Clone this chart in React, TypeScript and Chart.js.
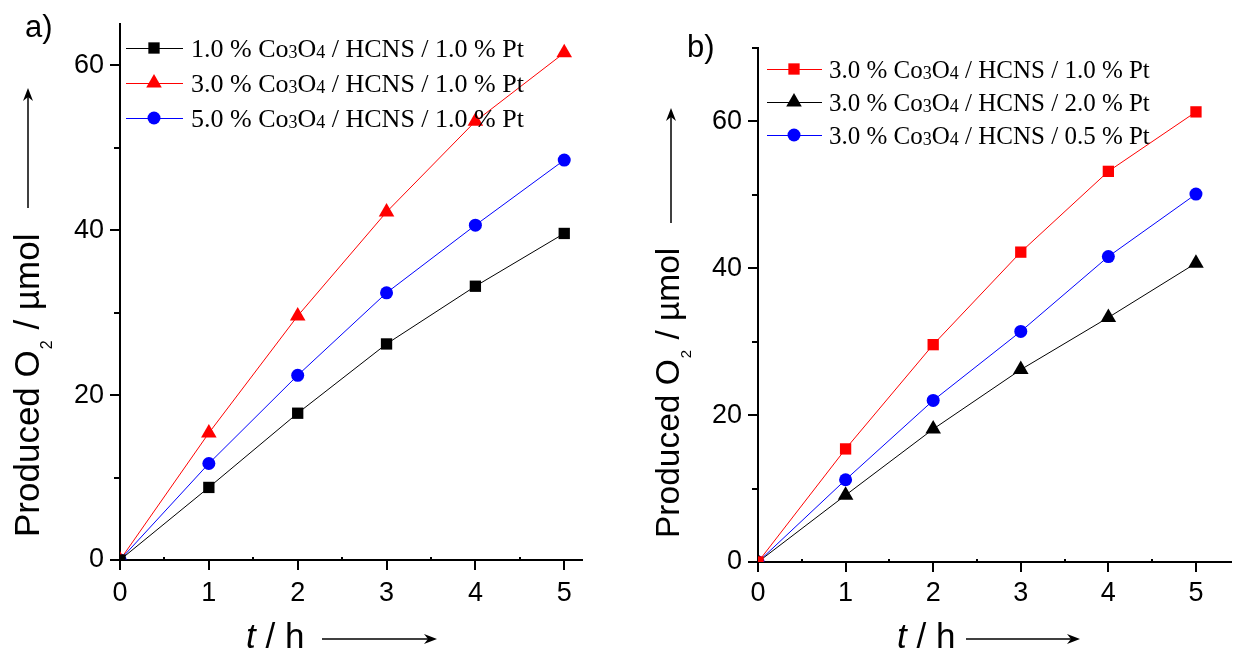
import React, { useEffect, useRef } from "react";
import { Chart, registerables } from "chart.js";

Chart.register(...registerables);

// ---------------- data ----------------
const hours = [0, 1, 2, 3, 4, 5];
const xTickValues = [0, 1, 2, 3, 4, 5];
const xMinorValues = [0.5, 1.5, 2.5, 3.5, 4.5];
const yTickValues = [0, 20, 40, 60];
const yMinorA = [10, 30, 50];
const yMinorB = [10, 30, 50, 70];

const labelsA = [
  "1.0 % Co3O4 / HCNS / 1.0 % Pt",
  "3.0 % Co3O4 / HCNS / 1.0 % Pt",
  "5.0 % Co3O4 / HCNS / 1.0 % Pt",
];
const a_Co10 = [0, 8.8, 17.8, 26.2, 33.2, 39.6];
const a_Co30 = [0, 15.4, 29.6, 42.2, 53.2, 61.5];
const a_Co50 = [0, 11.7, 22.4, 32.4, 40.6, 48.5];

const labelsB = [
  "3.0 % Co3O4 / HCNS / 1.0 % Pt",
  "3.0 % Co3O4 / HCNS / 2.0 % Pt",
  "3.0 % Co3O4 / HCNS / 0.5 % Pt",
];
const b_Pt10 = [0, 15.4, 29.6, 42.2, 53.2, 61.3];
const b_Pt20 = [0, 9.1, 18.1, 26.2, 33.3, 40.7];
const b_Pt05 = [0, 11.2, 22.0, 31.4, 41.6, 50.1];

const yTitleMain = "Produced O";
const yTitleSub = "2";
const yTitleTail = " / \u00b5mol";
const xTitleItalic = "t";
const xTitleTail = " / h";

// ---------------- styles ----------------
const W = 620;
const H = 651;
const SANS = "'Liberation Sans', Arial, Helvetica, sans-serif";
const SERIF = "'Liberation Serif', 'Times New Roman', serif";
const RED = "#ff0000";
const BLUE = "#0000ff";
const BLACK = "#000000";

type Series = { label: string; values: number[]; color: string; style: string; radius: number };

type PanelCfg = {
  area: { left: number; top: number; right: number; bottom: number };
  xMax: number;
  yMax: number;
  yMinor: number[];
  series: Series[];
  panelLabel: string;
  panelLabelPos: [number, number];
  legend: { lineX0: number; lineX1: number; markerX: number; textX: number; rowY0: number; rowGap: number; size: number };
  yTitle: { baseX: number; startY: number; size: number; arrowX: number; arrowY0: number; arrowY1: number };
  xTitle: { x: number; baseY: number; size: number; arrowX0: number; arrowX1: number; arrowY: number };
  xLabelPad: number;
};

function drawMarker(ctx: CanvasRenderingContext2D, style: string, x: number, y: number, r: number, color: string) {
  ctx.save();
  ctx.fillStyle = color;
  ctx.beginPath();
  if (style === "rect") {
    const s = Math.SQRT1_2 * r;
    ctx.rect(x - s, y - s, 2 * s, 2 * s);
  } else if (style === "triangle") {
    ctx.moveTo(x, y - r);
    ctx.lineTo(x + r * Math.sin(Math.PI / 3), y + r * 0.5);
    ctx.lineTo(x - r * Math.sin(Math.PI / 3), y + r * 0.5);
    ctx.closePath();
  } else {
    ctx.arc(x, y, r, 0, Math.PI * 2);
  }
  ctx.fill();
  ctx.restore();
}

function drawRich(ctx: CanvasRenderingContext2D, text: string, x: number, y: number, size: number, family: string) {
  let cx = x;
  for (let i = 0; i < text.length; i++) {
    const ch = text[i];
    const sub = /\d/.test(ch) && i > 0 && /[A-Za-z]/.test(text[i - 1]);
    const fs = sub ? Math.round(size * 0.7) : size;
    ctx.font = `${fs}px ${family}`;
    ctx.fillText(ch, cx, y + (sub ? size * 0.05 : 0));
    cx += ctx.measureText(ch).width;
  }
}

function makeDecor(cfg: PanelCfg) {
  return {
    id: "decor",
    afterDraw(chart: any) {
      const ctx: CanvasRenderingContext2D = chart.ctx;
      const xs = chart.scales.x;
      const ys = chart.scales.y;
      const ca = chart.chartArea;
      ctx.save();
      ctx.strokeStyle = BLACK;
      ctx.fillStyle = BLACK;
      // minor ticks
      ctx.lineWidth = 2;
      ctx.beginPath();
      for (const v of xMinorValues) {
        const px = Math.round(xs.getPixelForValue(v));
        ctx.moveTo(px, ca.bottom);
        ctx.lineTo(px, ca.bottom - 3);
      }
      for (const v of cfg.yMinor) {
        const py = Math.round(ys.getPixelForValue(v));
        ctx.moveTo(ca.left, py);
        ctx.lineTo(ca.left - 6, py);
      }
      ctx.stroke();

      // panel label
      ctx.font = `31px ${SANS}`;
      ctx.textBaseline = "alphabetic";
      ctx.textAlign = "left";
      ctx.fillText(cfg.panelLabel, cfg.panelLabelPos[0], cfg.panelLabelPos[1]);

      // legend
      const lg = cfg.legend;
      cfg.series.forEach((s, i) => {
        const ry = lg.rowY0 + i * lg.rowGap;
        ctx.strokeStyle = s.color;
        ctx.lineWidth = 1;
        ctx.beginPath();
        ctx.moveTo(lg.lineX0, ry + 0.5);
        ctx.lineTo(lg.lineX1, ry + 0.5);
        ctx.stroke();
        drawMarker(ctx, s.style, lg.markerX, ry, s.radius, s.color);
        ctx.fillStyle = BLACK;
        drawRich(ctx, s.label, lg.textX, ry + lg.size * 0.35, lg.size, SERIF);
      });

      // y title (rotated)
      const yt = cfg.yTitle;
      ctx.save();
      ctx.translate(yt.baseX, yt.startY);
      ctx.rotate(-Math.PI / 2);
      ctx.fillStyle = BLACK;
      ctx.font = `${yt.size}px ${SANS}`;
      ctx.fillText(yTitleMain, 0, 0);
      let off = ctx.measureText(yTitleMain).width;
      ctx.font = `${Math.round(yt.size * 0.46)}px ${SANS}`;
      ctx.fillText(yTitleSub, off + 1, yt.size * 0.37);
      off += ctx.measureText(yTitleSub).width + 2;
      ctx.font = `${yt.size}px ${SANS}`;
      ctx.fillText(yTitleTail, off, 0);
      ctx.restore();
      // y arrow
      ctx.strokeStyle = BLACK;
      ctx.fillStyle = BLACK;
      ctx.lineWidth = 1.5;
      ctx.beginPath();
      ctx.moveTo(yt.arrowX, yt.arrowY0);
      ctx.lineTo(yt.arrowX, yt.arrowY1 + 6);
      ctx.stroke();
      ctx.beginPath();
      ctx.moveTo(yt.arrowX, yt.arrowY1);
      ctx.lineTo(yt.arrowX - 5, yt.arrowY1 + 13);
      ctx.lineTo(yt.arrowX, yt.arrowY1 + 9);
      ctx.lineTo(yt.arrowX + 5, yt.arrowY1 + 13);
      ctx.closePath();
      ctx.fill();

      // x title
      const xt = cfg.xTitle;
      ctx.font = `italic ${xt.size}px ${SANS}`;
      ctx.fillText(xTitleItalic, xt.x, xt.baseY);
      const tw = ctx.measureText(xTitleItalic).width;
      ctx.font = `${xt.size}px ${SANS}`;
      ctx.fillText(xTitleTail, xt.x + tw, xt.baseY);
      ctx.beginPath();
      ctx.moveTo(xt.arrowX0, xt.arrowY);
      ctx.lineTo(xt.arrowX1 - 6, xt.arrowY);
      ctx.stroke();
      ctx.beginPath();
      ctx.moveTo(xt.arrowX1, xt.arrowY);
      ctx.lineTo(xt.arrowX1 - 13, xt.arrowY - 5);
      ctx.lineTo(xt.arrowX1 - 9, xt.arrowY);
      ctx.lineTo(xt.arrowX1 - 13, xt.arrowY + 5);
      ctx.closePath();
      ctx.fill();
      ctx.restore();
    },
  };
}

function buildChart(canvas: HTMLCanvasElement, cfg: PanelCfg) {
  const a = cfg.area;
  return new Chart(canvas, {
    type: "line",
    data: {
      datasets: cfg.series.map((s) => ({
        label: s.label,
        data: hours.map((h, i) => ({ x: h, y: s.values[i] })),
        borderColor: s.color,
        backgroundColor: s.color,
        borderWidth: 1,
        pointStyle: s.style as any,
        pointRadius: s.radius,
        pointBorderWidth: 0,
        pointBackgroundColor: s.color,
        tension: 0,
      })),
    },
    options: {
      animation: false,
      responsive: false,
      maintainAspectRatio: false,
      events: [],
      layout: { padding: { left: 0, top: a.top, right: W - a.right, bottom: 0 } },
      plugins: { legend: { display: false }, tooltip: { enabled: false }, title: { display: false } },
      scales: {
        x: {
          type: "linear",
          min: 0,
          max: cfg.xMax,
          afterBuildTicks: (s: any) => {
            s.ticks = xTickValues.map((v) => ({ value: v }));
          },
          afterFit: (s: any) => {
            s.height = H - a.bottom;
          },
          grid: { drawOnChartArea: false, drawTicks: true, tickLength: 10, lineWidth: 2, color: BLACK },
          border: { display: true, width: 2, color: BLACK },
          ticks: {
            color: BLACK,
            font: { family: SANS, size: 27 },
            padding: cfg.xLabelPad,
            maxRotation: 0,
            autoSkip: false,
            includeBounds: false,
            callback: (v: any) => String(v),
          },
        },
        y: {
          type: "linear",
          min: 0,
          max: cfg.yMax,
          afterBuildTicks: (s: any) => {
            s.ticks = yTickValues.map((v) => ({ value: v }));
          },
          afterFit: (s: any) => {
            s.width = a.left;
          },
          grid: { drawOnChartArea: false, drawTicks: true, tickLength: 10, lineWidth: 2, color: BLACK },
          border: { display: true, width: 2, color: BLACK },
          ticks: {
            color: BLACK,
            font: { family: SANS, size: 27 },
            padding: 6,
            autoSkip: false,
            includeBounds: false,
            callback: (v: any) => String(v),
          },
        },
      },
    },
    plugins: [makeDecor(cfg)],
  } as any);
}

const panelA: PanelCfg = {
  area: { left: 120, top: 24, right: 582, bottom: 560 },
  xMax: 5.2,
  yMax: 65,
  yMinor: yMinorA,
  series: [
    { label: labelsA[0], values: a_Co10, color: BLACK, style: "rect", radius: 8 },
    { label: labelsA[1], values: a_Co30, color: RED, style: "triangle", radius: 9 },
    { label: labelsA[2], values: a_Co50, color: BLUE, style: "circle", radius: 6.5 },
  ],
  panelLabel: "a)",
  panelLabelPos: [25, 37],
  legend: { lineX0: 126, lineX1: 183, markerX: 154, textX: 191, rowY0: 48, rowGap: 35, size: 26 },
  yTitle: { baseX: 39, startY: 537, size: 35, arrowX: 28, arrowY0: 208, arrowY1: 88 },
  xTitle: { x: 246, baseY: 648, size: 35, arrowX0: 322, arrowX1: 437, arrowY: 639 },
  xLabelPad: 7,
};

const panelB: PanelCfg = {
  area: { left: 138, top: 48, right: 620, bottom: 562 },
  xMax: 5.4,
  yMax: 70,
  yMinor: yMinorB,
  series: [
    { label: labelsB[0], values: b_Pt10, color: RED, style: "rect", radius: 8 },
    { label: labelsB[1], values: b_Pt20, color: BLACK, style: "triangle", radius: 9 },
    { label: labelsB[2], values: b_Pt05, color: BLUE, style: "circle", radius: 6.5 },
  ],
  panelLabel: "b)",
  panelLabelPos: [67, 57],
  legend: { lineX0: 147, lineX1: 202, markerX: 174, textX: 209, rowY0: 69, rowGap: 33, size: 25 },
  yTitle: { baseX: 59, startY: 538, size: 33.5, arrowX: 51, arrowY0: 223, arrowY1: 108 },
  xTitle: { x: 277, baseY: 648, size: 35, arrowX0: 346, arrowX1: 460, arrowY: 639 },
  xLabelPad: 5,
};

export default function App() {
  const refA = useRef<HTMLCanvasElement | null>(null);
  const refB = useRef<HTMLCanvasElement | null>(null);

  useEffect(() => {
    if (!refA.current || !refB.current) return;
    const ca = buildChart(refA.current, panelA);
    const cb = buildChart(refB.current, panelB);
    return () => {
      ca.destroy();
      cb.destroy();
    };
  }, []);

  return (
    <div style={{ position: "absolute", left: 0, top: 0, width: 1240, height: 651, background: "#fff", overflow: "hidden" }}>
      <canvas ref={refA} width={W} height={H} style={{ position: "absolute", left: 0, top: 0, width: W, height: H }} />
      <canvas ref={refB} width={W} height={H} style={{ position: "absolute", left: 620, top: 0, width: W, height: H }} />
    </div>
  );
}
